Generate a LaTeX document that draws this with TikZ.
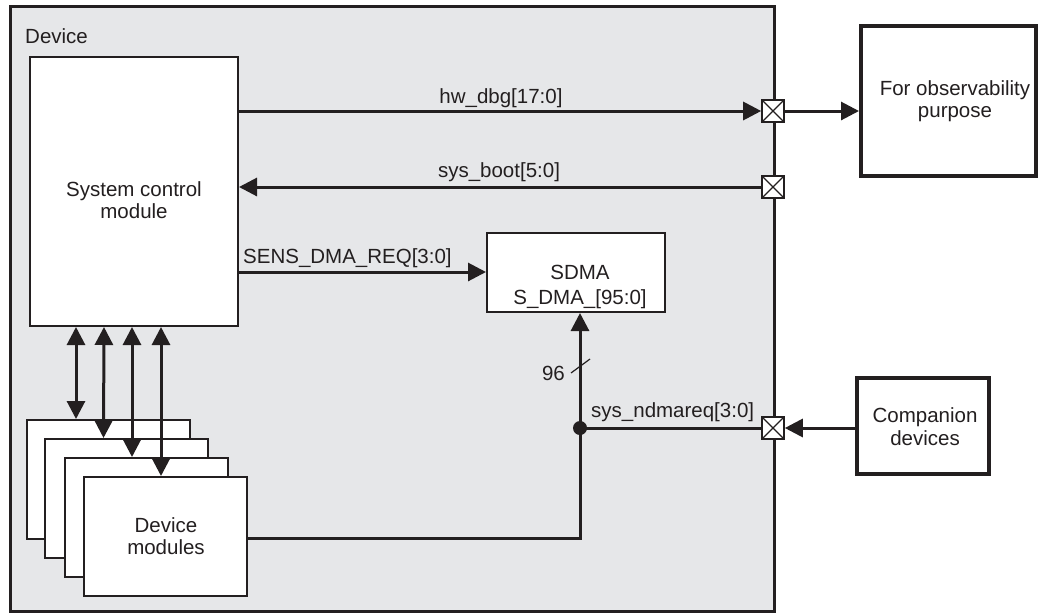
\documentclass[tikz,border=0pt]{standalone}
\usepackage{fontspec}
\setmainfont{Liberation Sans}
\usetikzlibrary{arrows.meta}
\definecolor{ink}{HTML}{231F20}
\definecolor{devgray}{HTML}{E6E7E9}
\tikzset{
  txt/.style={font=\fontsize{20.5}{22.5}\selectfont, text=ink, inner sep=0pt},
  block/.style={draw=ink, fill=white, line width=2pt, inner sep=0pt},
  pad/.style={draw=ink, fill=white, line width=1.6pt, minimum size=22pt, inner sep=0pt,
    path picture={\draw[ink, line width=1.2pt]
      (path picture bounding box.north west) -- (path picture bounding box.south east)
      (path picture bounding box.south west) -- (path picture bounding box.north east);}},
  wire/.style={draw=ink, line width=3pt},
  arr/.style={wire, -{Triangle[length=18pt,width=18pt]}},
  darr/.style={wire, {Triangle[length=18pt,width=18pt]}-{Triangle[length=18pt,width=18pt]}},
}
\begin{document}
\begin{tikzpicture}[x=1pt,y=-1pt]
\useasboundingbox (0,0) rectangle (1039,614);
% device box
\node[draw=ink, fill=devgray, line width=3pt, minimum width=764pt, minimum height=605pt, inner sep=0pt] (dev) at (392,308.5) {};
\node[txt, anchor=base west] (devlbl) at (25,43) {Device};
% blocks
\node[block, minimum width=208pt, minimum height=269pt] (scm) at (134,191.5) {};
\node[txt, align=center] (scmtxt) at (134,200) {System control\\module};
\node[block, minimum width=178pt, minimum height=79pt] (sdma) at (576,272.5) {};
\node[txt, align=center] (sdmatxt) at (580,287) {SDMA\\[2.5pt]S\_DMA\_[95:0]};
\node[block, minimum width=163pt, minimum height=119pt] (dm1) at (108.5,479.5) {};
\node[block, minimum width=163pt, minimum height=119pt] (dm2) at (126,498.5) {};
\node[block, minimum width=163pt, minimum height=119pt] (dm3) at (146.5,517.5) {};
\node[block, minimum width=163pt, minimum height=119pt] (dm4) at (165.5,536.5) {};
\node[txt, align=center] (dmtxt) at (166,536) {Device\\modules};
\node[block, line width=4pt, minimum width=175pt, minimum height=150pt] (obs) at (948.5,101) {};
\node[txt, align=center] (obstxt) at (955,101) {For observability\\purpose};
\node[block, line width=3.5pt, minimum width=132pt, minimum height=96pt] (comp) at (923,426) {};
\node[txt, align=center] (comptxt) at (925,426.5) {Companion\\devices};
% pads
\node[pad] (pad1) at (773,111) {};
\node[pad] (pad2) at (773,187) {};
\node[pad] (pad3) at (773,428) {};
% coordinates
\coordinate (sensy) at (0,272);
\coordinate (jn) at (580,428);
\coordinate (corner) at (580,538);
% connectors
\draw[arr] (scm.east |- pad1) -- (pad1.west);
\draw[arr] (pad1.east) -- (pad1.east -| obs.west);
\draw[arr] (pad2.west) -- (pad2.west -| scm.east);
\draw[arr] (scm.east |- sensy) -- (sdma.west |- sensy);
\draw[arr] (comp.west |- pad3) -- (pad3.east);
\draw[wire] (jn) -- (pad3.west);
\draw[arr] (dm4.east |- corner) -- (corner) -- (sdma.south -| corner);
\fill[ink] (jn) circle (7pt);
\draw[ink, line width=1.2pt] (571,373) -- (590,359);
% labels
\node[txt, anchor=base] (lhw) at (501,103) {hw\_dbg[17:0]};
\node[txt, anchor=base] (lboot) at (499,177) {sys\_boot[5:0]};
\node[txt, anchor=base west] (lsens) at (243,263) {SENS\_DMA\_REQ[3:0]};
\node[txt, anchor=base west] (lnd) at (591,417) {sys\_ndmareq[3:0]};
\node[txt, anchor=base east] (l96) at (565,380) {96};
% double arrows
\draw[darr] ([xshift=47pt]scm.south west) -- ([xshift=50pt]dm1.north west);
\draw[darr] ([xshift=75pt]scm.south west) -- ([xshift=60pt]dm2.north west);
\draw[darr] ([xshift=103pt]scm.south west) -- ([xshift=68pt]dm3.north west);
\draw[darr] ([xshift=132pt]scm.south west) -- ([xshift=78pt]dm4.north west);
\end{tikzpicture}
\end{document}
